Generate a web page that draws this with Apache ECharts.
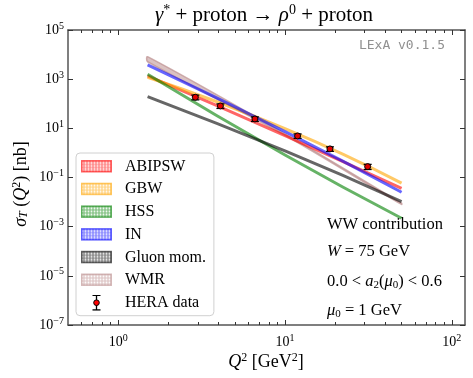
<!DOCTYPE html>
<html><head><meta charset="utf-8">
<script src="https://cdn.jsdelivr.net/npm/echarts@6/dist/echarts.min.js"></script>
<style>html,body{margin:0;padding:0;background:#fff}#c{width:473px;height:378px}</style>
</head><body><div id="c"></div><script>
// ---- data ----
const Q2 = [1.5, 10, 50];
const ABIPSW = [1350, 5.1, 0.036];
const GBW = [1195, 9.7, 0.059];
const HSS = [1580, 0.82, 0.0022];
const IN = [3780, 7.3, 0.025];
const GLUON = [195, 1.2, 0.0105];
const WMR_lo = [5100, 5.2, 0.0080];
const WMR_hi = [8200, 6.0, 0.0090];
const heraQ2 = [2.9, 4.1, 6.6, 11.9, 18.6, 31.3];
const heraSigma = [184, 81.5, 24.1, 4.91, 1.46, 0.277];
const heraErr = [40, 17, 5.0, 1.0, 0.30, 0.065];
const xMajor = [1, 10, 100];
const xMinor = [0.6, 0.7, 0.8, 0.9, 2, 3, 4, 5, 6, 7, 8, 9, 20, 30, 40, 50, 60, 70, 80, 90];
const yMajor = [1e-7, 1e-5, 1e-3, 1e-1, 1e1, 1e3, 1e5];

const SERIF = 'Liberation Serif';
const models = [
  ['ABIPSW', ABIPSW, 'rgba(255,0,0,0.6)', '255,0,0'],
  ['GBW', GBW, 'rgba(255,165,0,0.6)', '255,165,0'],
  ['HSS', HSS, 'rgba(0,128,0,0.6)', '0,128,0'],
  ['IN', IN, 'rgba(0,0,255,0.6)', '0,0,255'],
  ['Gluon mom.', GLUON, 'rgba(0,0,0,0.6)', '0,0,0']
];
const wmrRGB = '188,143,143';

function patchIcon(rgb) {
  const svg = "<svg xmlns='http://www.w3.org/2000/svg' width='31' height='16'>" +
    "<defs><pattern id='p' width='3' height='3' patternUnits='userSpaceOnUse'>" +
    "<rect width='3' height='3' fill='rgb(" + rgb + ")' fill-opacity='0.45'/>" +
    "<circle cx='1.5' cy='1.5' r='0.9' fill='white' fill-opacity='0.9'/></pattern></defs>" +
    "<rect x='0.75' y='2.25' width='29.5' height='11' fill='url(#p)' stroke='rgb(" + rgb + ")' stroke-opacity='0.6' stroke-width='1.5'/></svg>";
  return 'image://data:image/svg+xml;charset=utf-8,' + encodeURIComponent(svg);
}
function errIcon() {
  const svg = "<svg xmlns='http://www.w3.org/2000/svg' width='31' height='16'>" +
    "<line x1='15.5' y1='0.7' x2='15.5' y2='15.3' stroke='black' stroke-width='1.3'/>" +
    "<line x1='11.5' y1='0.7' x2='19.5' y2='0.7' stroke='black' stroke-width='1.3'/>" +
    "<line x1='11.5' y1='15.3' x2='19.5' y2='15.3' stroke='black' stroke-width='1.3'/>" +
    "<circle cx='15.5' cy='8' r='2.8' fill='red' stroke='black' stroke-width='1'/></svg>";
  return 'image://data:image/svg+xml;charset=utf-8,' + encodeURIComponent(svg);
}

function powLabel(v) {
  const e = Math.round(Math.log10(v));
  return '{b|10}{s|' + (e < 0 ? '\u2212' + (-e) : e) + '}';
}
const labelRich = {
  b: { fontFamily: SERIF, fontSize: 14, color: '#000' },
  s: { fontFamily: SERIF, fontSize: 10, color: '#000', padding: [0, 0, 8, 0] }
};
const axisLineStyle = { color: '#555', width: 1.5 };

const chart = echarts.init(document.getElementById('c'), null, { renderer: 'canvas' });

const series = [];
models.forEach(m => {
  series.push({
    type: 'line', name: m[0], xAxisIndex: 0, yAxisIndex: 0,
    data: Q2.map((q, i) => [q, m[1][i]]), showSymbol: false, smooth: true,
    lineStyle: { color: m[2], width: 3 }, itemStyle: { color: m[2] }, z: 2
  });
});
// WMR band: polygon between lower and upper curves, mapped through the axes
series.push({
  type: 'custom', name: 'WMR', xAxisIndex: 0, yAxisIndex: 0, z: 2,
  data: Q2.map((q, i) => [q, WMR_lo[i], WMR_hi[i]]),
  encode: { x: 0, y: [1, 2] },
  renderItem: function (params, api) {
    if (params.dataIndex !== 0) return null;
    const up = Q2.map((q, i) => api.coord([q, WMR_hi[i]]));
    const dn = Q2.map((q, i) => api.coord([q, WMR_lo[i]])).reverse();
    return { type: 'polygon', shape: { points: up.concat(dn), smooth: 0.3 },
      style: { fill: 'rgba(' + wmrRGB + ',0.55)', stroke: 'rgba(' + wmrRGB + ',0.7)', lineWidth: 1.5 } };
  }
});
series.push({
  type: 'custom', name: 'HERA data', xAxisIndex: 0, yAxisIndex: 0, z: 10,
  data: heraQ2.map((q, i) => [q, heraSigma[i] - heraErr[i], heraSigma[i] + heraErr[i]]),
  encode: { x: 0, y: [1, 2] },
  renderItem: function (params, api) {
    const x = api.value(0);
    const lo = api.coord([x, api.value(1)]);
    const hi = api.coord([x, api.value(2)]);
    const w = 4, st = { stroke: '#000', lineWidth: 1.3 };
    return { type: 'group', children: [
      { type: 'line', shape: { x1: lo[0], y1: lo[1], x2: hi[0], y2: hi[1] }, style: st },
      { type: 'line', shape: { x1: lo[0] - w, y1: lo[1], x2: lo[0] + w, y2: lo[1] }, style: st },
      { type: 'line', shape: { x1: hi[0] - w, y1: hi[1], x2: hi[0] + w, y2: hi[1] }, style: st }
    ] };
  }
});
series.push({
  type: 'scatter', name: 'HERA data', xAxisIndex: 0, yAxisIndex: 0, z: 11,
  data: heraQ2.map((q, i) => [q, heraSigma[i]]), symbol: 'circle', symbolSize: 6,
  itemStyle: { color: '#e00000', borderColor: '#000', borderWidth: 1, opacity: 1 }
});

const legendData = models.map(m => ({ name: m[0], icon: patchIcon(m[3]) }));
legendData.push({ name: 'WMR', icon: patchIcon(wmrRGB) });
legendData.push({ name: 'HERA data', icon: errIcon() });

function baseX(extra) {
  return Object.assign({
    type: 'log', logBase: 10, min: 0.5, max: 120, gridIndex: 0,
    splitLine: { show: false }, axisLine: { show: false },
    axisLabel: { show: false }, axisTick: { show: false }
  }, extra);
}
function baseY(extra) {
  return Object.assign({
    type: 'log', logBase: 10, min: 1e-7, max: 1e5, gridIndex: 0,
    splitLine: { show: false }, axisLine: { show: false },
    axisLabel: { show: false }, axisTick: { show: false }
  }, extra);
}

const option = {
  animation: false,
  backgroundColor: '#fff',
  grid: { left: 68, top: 30, right: 8, bottom: 53, containLabel: false },
  xAxis: [
    baseX({ position: 'bottom',
      axisLine: { show: true, onZero: false, lineStyle: axisLineStyle },
      axisTick: { show: true, inside: true, length: 5, customValues: xMajor, lineStyle: { color: '#333', width: 1 } },
      axisLabel: { show: true, customValues: xMajor, margin: 8, formatter: powLabel, rich: labelRich } }),
    baseX({ position: 'bottom',
      axisTick: { show: true, inside: true, length: 3, customValues: xMinor, lineStyle: { color: '#333', width: 1 } } }),
    baseX({ position: 'top',
      axisLine: { show: true, onZero: false, lineStyle: axisLineStyle },
      axisTick: { show: true, inside: true, length: 5, customValues: xMajor, lineStyle: { color: '#333', width: 1 } } }),
    baseX({ position: 'top',
      axisTick: { show: true, inside: true, length: 3, customValues: xMinor, lineStyle: { color: '#333', width: 1 } } })
  ],
  yAxis: [
    baseY({ position: 'left',
      axisLine: { show: true, onZero: false, lineStyle: axisLineStyle },
      axisTick: { show: true, inside: true, length: 5, customValues: yMajor, lineStyle: { color: '#333', width: 1 } },
      axisLabel: { show: true, customValues: yMajor, margin: 4, formatter: powLabel, rich: labelRich } }),
    baseY({ position: 'right',
      axisLine: { show: true, onZero: false, lineStyle: axisLineStyle },
      axisTick: { show: true, inside: true, length: 5, customValues: yMajor, lineStyle: { color: '#333', width: 1 } } })
  ],
  legend: {
    orient: 'vertical', left: 76, top: 153, selectedMode: false,
    padding: [5.5, 8, 5, 5], itemGap: 6.7, itemWidth: 31, itemHeight: 16,
    backgroundColor: 'rgba(255,255,255,0.85)', borderColor: '#d0d0d0', borderWidth: 1, borderRadius: 4,
    textStyle: { fontFamily: SERIF, fontSize: 16, lineHeight: 16, color: '#000', padding: [0, 0, 0, 8] },
    data: legendData
  },
  graphic: [
    { type: 'text', x: 264, y: 15, style: {
      text: '{i|\u03b3}{s|*} + proton \u2192 {i|\u03c1}{s|0} + proton',
      fontFamily: SERIF, fontSize: 21, fill: '#000', align: 'center', verticalAlign: 'middle',
      rich: { i: { fontFamily: SERIF, fontSize: 21, fontStyle: 'italic' }, s: { fontFamily: SERIF, fontSize: 14, padding: [0, 0, 9, 0] } } } },
    { type: 'text', x: 445, y: 46, style: {
      text: 'LExA v0.1.5', fontFamily: 'DejaVu Sans Mono', fontSize: 13, fill: '#909090', align: 'right', verticalAlign: 'middle' } },
    { type: 'text', x: 266, y: 362, style: {
      text: '{i|Q}{s|2} [GeV{s|2}]',
      fontFamily: SERIF, fontSize: 18, fill: '#000', align: 'center', verticalAlign: 'middle',
      rich: { i: { fontFamily: SERIF, fontSize: 18, fontStyle: 'italic' }, s: { fontFamily: SERIF, fontSize: 12, padding: [0, 0, 8, 0] } } } },
    { type: 'text', x: 21, y: 184, rotation: Math.PI / 2, style: {
      text: '{i|\u03c3}{sub|T} ({i|Q}{s|2}) [nb]',
      fontFamily: SERIF, fontSize: 18, fill: '#000', align: 'center', verticalAlign: 'middle',
      rich: { i: { fontFamily: SERIF, fontSize: 18, fontStyle: 'italic' }, s: { fontFamily: SERIF, fontSize: 12, padding: [0, 0, 8, 0] },
        sub: { fontFamily: SERIF, fontSize: 12, fontStyle: 'italic', padding: [6, 0, 0, 0] } } } },
    { type: 'text', x: 327, y: 225, style: { text: 'WW contribution', fontFamily: SERIF, fontSize: 16.5, fill: '#000', align: 'left', verticalAlign: 'middle' } },
    { type: 'text', x: 327, y: 252, style: { text: '{i|W} = 75 GeV', fontFamily: SERIF, fontSize: 16.5, fill: '#000', align: 'left', verticalAlign: 'middle',
      rich: { i: { fontFamily: SERIF, fontSize: 16.5, fontStyle: 'italic' } } } },
    { type: 'text', x: 327, y: 282, style: { text: '0.0 < {i|a}{sub|2}({i|\u03bc}{sub|0}) < 0.6', fontFamily: SERIF, fontSize: 16.5, fill: '#000', align: 'left', verticalAlign: 'middle',
      rich: { i: { fontFamily: SERIF, fontSize: 16.5, fontStyle: 'italic' }, sub: { fontFamily: SERIF, fontSize: 11, padding: [6, 0, 0, 0] } } } },
    { type: 'text', x: 327, y: 311, style: { text: '{i|\u03bc}{sub|0} = 1 GeV', fontFamily: SERIF, fontSize: 16.5, fill: '#000', align: 'left', verticalAlign: 'middle',
      rich: { i: { fontFamily: SERIF, fontSize: 16.5, fontStyle: 'italic' }, sub: { fontFamily: SERIF, fontSize: 11, padding: [6, 0, 0, 0] } } } }
  ],
  series: series
};
chart.setOption(option);
</script></body></html>
